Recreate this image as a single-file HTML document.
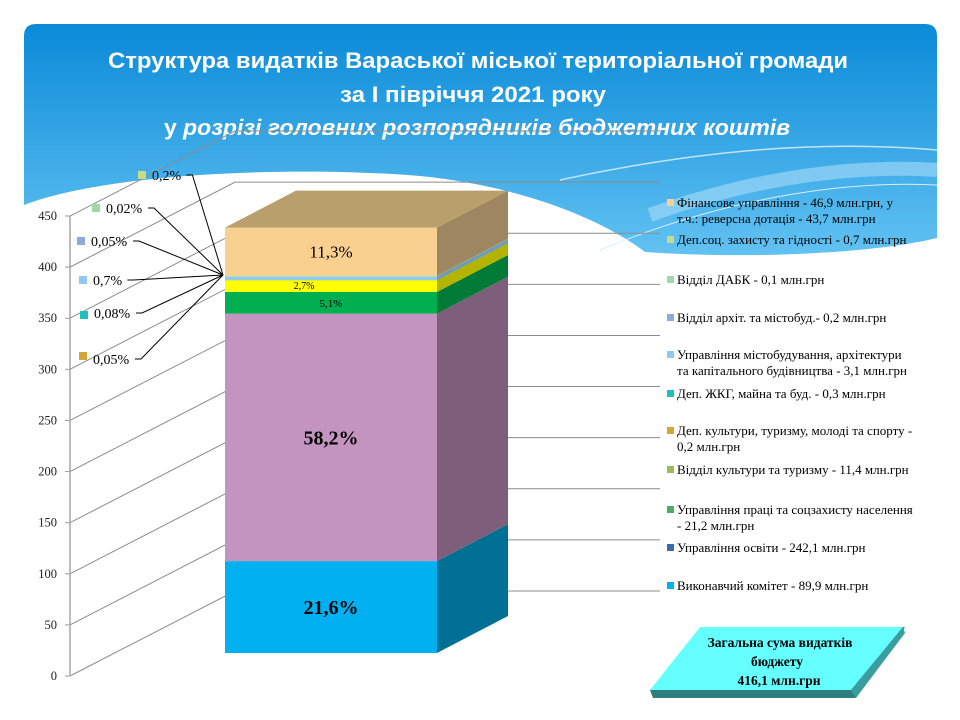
<!DOCTYPE html>
<html><head><meta charset="utf-8"><style>
html,body{margin:0;padding:0;background:#fff;}
svg{display:block;}
text{font-family:"Liberation Serif",serif;}
</style></head><body>
<svg id="chart" width="960" height="720" viewBox="0 0 960 720">
<defs>
<linearGradient id="bg" x1="0" y1="0" x2="0" y2="1">
<stop offset="0" stop-color="#0a8ad8"/><stop offset="1" stop-color="#62c2f2"/></linearGradient>
</defs>
<g>
<path d="M36,24 H925 Q937,24 937,36 V238 C880,252 760,260 645,252 C600,218 520,186 420,176 C300,166 110,172 24,205 V36 Q24,24 36,24 Z" fill="url(#bg)"/>
<path d="M560,180 C700,150 820,140 937,150" stroke="#bfe6fb" stroke-width="1.5" fill="none"/>
<path d="M600,250 C720,200 840,180 937,185" stroke="#d7f0fd" stroke-width="1" fill="none"/>
<path d="M650,215 C760,175 860,165 937,170" fill="none" stroke="#a9dcf8" stroke-width="14" opacity="0.6"/>
</g>
<g font-weight="bold" fill="#fff" text-anchor="middle">
<text x="478" y="68" font-size="22" textLength="740" lengthAdjust="spacingAndGlyphs" style="font-family:'Liberation Sans',sans-serif">Структура видатків Вараської міської  територіальної громади</text>
<text x="473" y="102" font-size="22" textLength="266" lengthAdjust="spacingAndGlyphs" style="font-family:'Liberation Sans',sans-serif">за І півріччя 2021 року</text>
<text x="477" y="135" font-size="22" textLength="626" lengthAdjust="spacingAndGlyphs" style="font-family:'Liberation Sans',sans-serif"><tspan font-style="normal">у </tspan><tspan font-style="italic">розрізі головних розпорядників бюджетних коштів</tspan></text>
</g>
<g id="grid"></g>
<g id="axis"></g>
<g id="bar"></g>
<g id="callouts"></g>
<g id="legend"></g>
<g>
<polygon points="705,627 905,627 855,698 653,698" fill="#2e8b8b"/>
<polygon points="700,627 903,627 851,690 650,690" fill="#66ffff"/>
<polygon points="851,690 903,627 905,633 856,698" fill="#3a9e9e"/>
<polygon points="650,690 851,690 856,698 653,698" fill="#2f7f7f"/>
<g font-weight="bold" font-size="13.5" text-anchor="middle" fill="#000">
<text x="780" y="647">Загальна сума видатків</text>
<text x="777" y="666">бюджету</text>
<text x="779" y="685">416,1 млн.грн</text>
</g>
</g>
</svg>
<script>
const categories=["Виконавчий комітет","Управління освіти","Управління праці та соцзахисту","Відділ культури та туризму","Деп. культури, туризму, молоді та спорту","Деп. ЖКГ, майна та буд.","Управління містобудування","Відділ архіт. та містобуд.","Відділ ДАБК","Деп.соц. захисту та гідності","Фінансове управління"];
const values=[89.9,242.1,21.2,11.4,0.2,0.3,3.1,0.2,0.1,0.7,46.9];
const pctLabels=["21,6%","58,2%","5,1%","2,7%","0,05%","0,08%","0,7%","0,05%","0,02%","0,2%","11,3%"];
const yTicks=[0,50,100,150,200,250,300,350,400,450];
const legendLines=[["Фінансове  управління  - 46,9 млн.грн, у","т.ч.: реверсна дотація - 43,7 млн.грн"],["Деп.соц. захисту та гідності - 0,7 млн.грн"],["Відділ ДАБК - 0,1 млн.грн"],["Відділ архіт. та містобуд.- 0,2 млн.грн"],["Управління містобудування, архітектури","та капітального будівництва - 3,1 млн.грн"],["Деп. ЖКГ, майна та буд. - 0,3 млн.грн"],["Деп. культури, туризму, молоді та спорту -","0,2 млн.грн"],["Відділ культури та туризму - 11,4 млн.грн"],["Управління праці та соцзахисту населення","- 21,2 млн.грн"],["Управління освіти - 242,1 млн.грн"],["Виконавчий комітет - 89,9 млн.грн"]];
const NS="http://www.w3.org/2000/svg";
function mk(tag,attrs,parent){const e=document.createElementNS(NS,tag);for(const k in attrs)e.setAttribute(k,attrs[k]);parent.appendChild(e);return e;}
const front=["#00b0f0","#c394c0","#00b050","#ffff00","#d4a537","#1fc0c0","#8fc8f0","#8ea9db","#9fd9a9","#c5dd8a","#f9d08f"];
const side=["#006f94","#7d5f7b","#007a37","#b3b300","#9a7a30","#15807f","#6a9bbd","#5e7598","#6f9a76","#8a9a5e","#9e8660"];
const legendColors=["#f9d08f","#c5dd8a","#9fd9a9","#8ea9db","#8fc8f0","#1fc0c0","#d4a537","#9bbb59","#4bac6c","#3c6ab0","#00b0f0"];
const K=1.0222;
function yAxis(v){return 676-v*K;}
function yBar(v){return 653-v*K;}
const grid=document.getElementById('grid'),axis=document.getElementById('axis');
yTicks.forEach(t=>{
 const y=yAxis(t);
 const l=mk('polyline',{points:`70,${y} 235,${y-85} 660,${y-85}`,fill:'none',stroke:'#8c8c8c','stroke-width':1},grid);
 
 
 mk('line',{x1:65,y1:y,x2:70,y2:y,stroke:'#999'},axis);
 const tx=mk('text',{x:57,y:y+4,'font-size':12.5,'text-anchor':'end',fill:'#222'},axis);
 tx.textContent=t;
 
 
});
mk('line',{x1:70,y1:yAxis(450),x2:70,y2:676,stroke:'#a6a6a6','stroke-width':1.5},axis);
const bar=document.getElementById('bar');
const X0=225,X1=437,DX=71,DY=-37;
let cum=0;const tops=[];
values.forEach((v,i)=>{
 const yb=yBar(cum),yt=yBar(cum+v);cum+=v;tops.push([yb,yt]);
 const r=mk('rect',{x:X0,y:yt,width:X1-X0,height:Math.max(yb-yt,0),fill:front[i]},bar);
 
 
 const s=mk('polygon',{points:`${X1},${yb} ${X1+DX},${yb+DY} ${X1+DX},${yt+DY} ${X1},${yt}`,fill:side[i]},bar);
 
 
});
const topY=yBar(cum);
const tp=mk('polygon',{points:`${X0},${topY} ${X1},${topY} ${X1+DX},${topY+DY} ${X0+DX},${topY+DY}`,fill:'#b89f6c'},bar);


function lbl(i,size,bold,dy,dx){const[yb,yt]=tops[i];const t=mk('text',{x:(X0+X1)/2+(dx||0),y:(yb+yt)/2+dy,'font-size':size,'text-anchor':'middle','font-weight':bold?'bold':'normal',fill:'#000'},bar);t.textContent=pctLabels[i];
 
 }
lbl(0,20,true,7);lbl(1,20,true,7);lbl(2,11,false,4);lbl(3,10,false,3,-27);lbl(10,17,false,6);
const co=document.getElementById('callouts');
const cpos=[[4,359],[5,313],[6,280],[7,241],[8,208],[9,175]];
const cx=[83,84,83,81,96,142];
const cv=[3,-2,0,0,0,0];
cpos.forEach(([i,y],k)=>{
 const sx=cx[k];
 mk('rect',{x:sx-4,y:y-4-cv[k],width:8,height:8,fill:front[i]},co);
 const t=mk('text',{x:sx+10,y:y+5,'font-size':14,fill:'#000'},co);
 t.textContent=pctLabels[i];
 
 
 const ex=sx+10+pctLabels[i].length*7.6+4;
 mk('polyline',{points:`${ex},${y} ${ex+6},${y} 223,275`,fill:'none',stroke:'#000','stroke-width':1},co);
});
const lg=document.getElementById('legend');
const ly=[203,240,280,318,355,394,431,470,510,548,586];
legendLines.forEach((lines,k)=>{
 const g=mk('g',{},lg);
 
 
 mk('rect',{x:667,y:ly[k]-4,width:7,height:7,fill:legendColors[k]},g);
 lines.forEach((ln,j)=>{const t=mk('text',{x:677,y:ly[k]+4+j*16,'font-size':13,fill:'#000'},g);t.textContent=ln;});
});
</script>
</body></html>
